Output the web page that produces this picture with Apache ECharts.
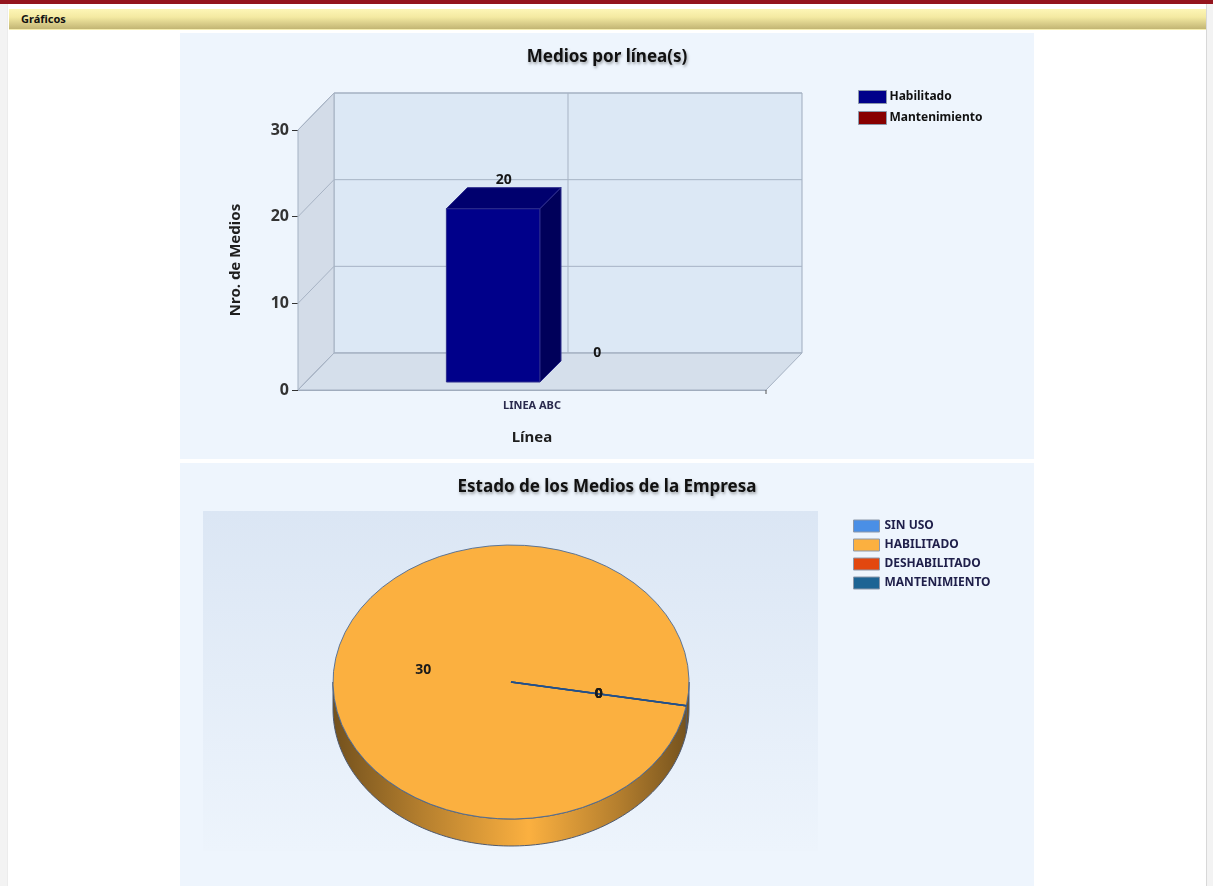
<!DOCTYPE html>
<html>
<head>
<meta charset="utf-8">
<title>Gráficos</title>
<script src="https://cdn.jsdelivr.net/npm/echarts@6.0.0/dist/echarts.min.js"></script>
<style>
  body { margin: 0; background: #f3f3f3; font-family: "Noto Sans", sans-serif; }
  #topbar { position: absolute; left: 0; top: 0; width: 1213px; height: 4px; background: #94141d; }
  #page { position: absolute; left: 7px; top: 4px; width: 1198px; height: 882px; background: #fff;
          border-left: 1px solid #ececec; border-right: 1px solid #d8d8d8; }
  #hdr { position: absolute; left: 9px; top: 9px; width: 1197px; height: 21px; box-sizing: border-box;
         padding-left: 12px; font-weight: bold; font-size: 11px; line-height: 19px; color: #111;
         background: linear-gradient(#fdf6b6, #f4eaa2 40%, #c2b574); border-bottom: 1px solid #f6eeb0; }
  .panel { position: absolute; left: 180px; width: 854px; }
  #bars { top: 33px; height: 426px; }
  #pie { top: 463px; height: 423px; }
</style>
</head>
<body>
<div id="topbar"></div>
<div id="page"></div>
<div id="hdr">Gráficos</div>
<div id="bars" class="panel"></div>
<div id="pie" class="panel"></div>
<script>
// datos: medios por línea
var lineas = ['LINEA ABC'];
var habilitado = [20];
var mantenimiento = [0];
var ticksY = [0, 10, 20, 30];

// datos: estado de los medios
var estados = ['SIN USO', 'HABILITADO', 'DESHABILITADO', 'MANTENIMIENTO'];
var cantidades = [0, 30, 0, 0];

var FONT = '"Noto Sans", sans-serif';
var DX = 36, DY = -37;   // profundidad de las paredes
var INSET = 8, BD = 21;  // posición y profundidad de la barra

var barras = [
  { name: 'Habilitado', data: habilitado, color: '#00008a', top: '#00006e', side: '#00005a' },
  { name: 'Mantenimiento', data: mantenimiento, color: '#880000', top: '#6e0000', side: '#5a0000' }
];

function linea(x1, y1, x2, y2, color) {
  return { type: 'line', shape: { x1: x1, y1: y1, x2: x2, y2: y2 }, style: { stroke: color || '#a7b3c4', lineWidth: 1 } };
}

function renderParedes(params, api) {
  var cs = params.coordSys;
  var L = cs.x, R = cs.x + cs.width, T = cs.y, B = cs.y + cs.height;
  var kids = [
    { type: 'rect', shape: { x: L + DX, y: T + DY, width: cs.width, height: cs.height },
      style: { fill: '#dce8f5', stroke: '#9eabbd', lineWidth: 1 } },
    { type: 'polygon', shape: { points: [[L, B], [L, T], [L + DX, T + DY], [L + DX, B + DY]] },
      style: { fill: '#d3dce8', stroke: '#a5b1c2', lineWidth: 1 } },
    { type: 'polygon', shape: { points: [[L, B], [R, B], [R + DX, B + DY], [L + DX, B + DY]] },
      style: { fill: '#d5dfeb', stroke: '#a5b1c2', lineWidth: 1 } }
  ];
  ticksY.forEach(function (v) {
    var y = api.coord([0, v])[1];
    kids.push(linea(L, y, L + DX, y + DY), linea(L + DX, y + DY, R + DX, y + DY));
  });
  lineas.forEach(function (c, i) {
    var x = api.coord([i, 0])[0] + DX;
    kids.push(linea(x, T + DY, x, B + DY));
  });
  kids.push(linea(R, B, R, B + 4, '#555'));
  return { type: 'group', children: kids };
}

function renderBarra(k) {
  var b = barras[k];
  return function (params, api) {
    var cat = api.value(0), val = api.value(1);
    var bw = api.size([1, 0])[0] * 0.2;
    var c = api.coord([cat, 0]);
    var t = api.coord([cat, val]);
    var x0 = c[0] - bw * barras.length / 2 + k * bw + INSET;
    var yb = c[1] - INSET, yt = t[1] - INSET;
    var kids = [];
    if (yb - yt > 0.5) {
      kids.push(
        { type: 'rect', shape: { x: x0, y: yt, width: bw, height: yb - yt },
          style: { fill: b.color, stroke: '#2c2c8c', lineWidth: 1 } },
        { type: 'polygon', shape: { points: [[x0, yt], [x0 + BD, yt - BD], [x0 + bw + BD, yt - BD], [x0 + bw, yt]] },
          style: { fill: b.top, stroke: '#2c2c8c', lineWidth: 1 } },
        { type: 'polygon', shape: { points: [[x0 + bw, yt], [x0 + bw + BD, yt - BD], [x0 + bw + BD, yb - BD], [x0 + bw, yb]] },
          style: { fill: b.side, stroke: '#2c2c8c', lineWidth: 1 } }
      );
    }
    kids.push({ type: 'text', x: x0 + bw / 2 + BD / 2, y: yt - BD - 8,
      style: { text: String(val), font: 'bold 14px ' + FONT, fill: '#161616',
               textAlign: 'center', textVerticalAlign: 'middle' } });
    return { type: 'group', children: kids };
  };
}

var tituloEstilo = {
  fontFamily: FONT, fontWeight: 'bold', fontSize: 17, color: '#111',
  textShadowColor: 'rgba(0,0,0,0.35)', textShadowBlur: 3, textShadowOffsetX: 1, textShadowOffsetY: 2
};

var chart1 = echarts.init(document.getElementById('bars'));
var series1 = [{
  type: 'custom', name: 'paredes', coordinateSystem: 'cartesian2d', silent: true, clip: false, z: 2,
  data: [[0, 0]], encode: { x: 0, y: 1 }, renderItem: renderParedes
}];
barras.forEach(function (b, k) {
  series1.push({
    type: 'custom', name: b.name, coordinateSystem: 'cartesian2d', clip: false, z: 3,
    itemStyle: { color: b.color },
    data: b.data.map(function (v, i) { return [i, v]; }),
    encode: { x: 0, y: 1 }, renderItem: renderBarra(k)
  });
});
chart1.setOption({
  backgroundColor: '#eef5fd',
  animation: false,
  title: { text: 'Medios por línea(s)', left: 'center', top: 11, textStyle: tituloEstilo },
  legend: {
    data: barras.map(function (b) { return b.name; }),
    orient: 'vertical', left: 673, top: 52, icon: 'rect', itemWidth: 28, itemHeight: 13, itemGap: 7,
    itemStyle: { borderColor: '#8c98aa', borderWidth: 1 },
    textStyle: { fontFamily: FONT, fontWeight: 'bold', fontSize: 12, color: '#111', padding: [0, 0, 0, -2] }
  },
  grid: { left: 118, top: 97, width: 468, height: 260 },
  xAxis: {
    type: 'category', data: lineas,
    name: 'Línea', nameLocation: 'middle', nameGap: 40,
    nameTextStyle: { fontFamily: FONT, fontWeight: 'bold', fontSize: 15, color: '#1e1e1e' },
    axisLine: { lineStyle: { color: '#9aa6b8' } },
    axisTick: { alignWithLabel: true, length: 5, lineStyle: { color: '#555' } },
    axisLabel: { fontFamily: FONT, fontWeight: 'bold', fontSize: 11, color: '#2a2a4e', margin: 10 },
    splitLine: { show: false }
  },
  yAxis: {
    type: 'value', min: 0, max: 30, interval: 10,
    name: 'Nro. de Medios', nameLocation: 'middle', nameGap: 55, nameRotate: 90,
    nameTextStyle: { fontFamily: FONT, fontWeight: 'bold', fontSize: 15, color: '#1e1e1e' },
    axisLine: { show: true, lineStyle: { color: '#8e99aa' } },
    axisTick: { show: true, length: 6, lineStyle: { color: '#333' } },
    axisLabel: { fontFamily: FONT, fontWeight: 'bold', fontSize: 16, color: '#333', margin: 9 },
    splitLine: { show: false }
  },
  series: series1
});

// gráfico de torta
var coloresPie = ['#4a8fe6', '#fbb040', '#e2470f', '#1d6494'];
var PX = 331, PY = 219, RX = 178, RY = 137, PROF = 27;
var INICIO = 10 * Math.PI / 180;

function sombra(hex, f) {
  var n = parseInt(hex.slice(1), 16);
  var r = Math.round((n >> 16 & 255) * f), g = Math.round((n >> 8 & 255) * f), b = Math.round((n & 255) * f);
  return 'rgb(' + r + ',' + g + ',' + b + ')';
}

function lateral(s, e, color) {
  var pts = [], n = Math.max(8, Math.ceil((e - s) / 0.03)), i, t;
  for (i = 0; i <= n; i++) { t = s + (e - s) * i / n; pts.push([PX + RX * Math.cos(t), PY + RY * Math.sin(t)]); }
  for (i = n; i >= 0; i--) { t = s + (e - s) * i / n; pts.push([PX + RX * Math.cos(t), PY + RY * Math.sin(t) + PROF]); }
  return {
    type: 'polygon', shape: { points: pts },
    style: {
      fill: { type: 'linear', x: PX - RX, y: 0, x2: PX + RX, y2: 0, global: true, colorStops: [
        { offset: 0, color: sombra(color, 0.46) }, { offset: 0.25, color: sombra(color, 0.72) },
        { offset: 0.55, color: color }, { offset: 0.8, color: sombra(color, 0.72) },
        { offset: 1, color: sombra(color, 0.46) }] },
      stroke: '#4e5a70', lineWidth: 1
    }
  };
}

function renderPorcion(k) {
  return function (params, api) {
    var total = cantidades.reduce(function (a, b) { return a + b; }, 0);
    var previo = 0;
    for (var i = 0; i < k; i++) previo += cantidades[i];
    var v = api.value(0);
    var a0 = INICIO + previo / total * Math.PI * 2;
    var a1 = a0 + v / total * Math.PI * 2;
    var color = coloresPie[k];
    var kids = [];
    [[0, Math.PI], [Math.PI * 2, Math.PI * 3]].forEach(function (r) {
      var s = Math.max(a0, r[0]), e = Math.min(a1, r[1]);
      if (e - s > 1e-4) kids.push(lateral(s, e, color));
    });
    var cara = v > 0
      ? { type: 'sector', shape: { cx: 0, cy: 0, r: RX, startAngle: a0, endAngle: a1, clockwise: true },
          style: { fill: color, stroke: '#4a6996', lineWidth: 1, strokeNoScale: true } }
      : { type: 'line', z2: 10, shape: { x1: 0, y1: 0, x2: RX * Math.cos(a0), y2: RX * Math.sin(a0) },
          style: { stroke: '#23508a', lineWidth: 2, strokeNoScale: true } };
    kids.push({ type: 'group', x: PX, y: PY, scaleY: RY / RX, children: [cara] });
    var mid = (a0 + a1) / 2;
    kids.push({ type: 'text', z2: 11, x: PX + RX / 2 * Math.cos(mid), y: PY + RY / 2 * Math.sin(mid),
      style: { text: String(v), font: 'bold 14px ' + FONT, fill: '#1a1a1a',
               textAlign: 'center', textVerticalAlign: 'middle' } });
    return { type: 'group', children: kids };
  };
}

var chart2 = echarts.init(document.getElementById('pie'));
chart2.setOption({
  backgroundColor: '#eef5fd',
  animation: false,
  title: { text: 'Estado de los Medios de la Empresa', left: 'center', top: 11, textStyle: tituloEstilo },
  legend: {
    data: estados, orient: 'vertical', left: 668, top: 51, icon: 'rect',
    itemWidth: 26, itemHeight: 12, itemGap: 5,
    itemStyle: { borderColor: '#8c98aa', borderWidth: 1 },
    textStyle: { fontFamily: FONT, fontWeight: 'bold', fontSize: 12, lineHeight: 14, color: '#1f1f4a' }
  },
  graphic: [{
    type: 'rect', left: 23, top: 48, z: -10, silent: true,
    shape: { width: 615, height: 340 },
    style: { fill: { type: 'linear', x: 0, y: 0, x2: 0, y2: 1, colorStops: [
      { offset: 0, color: '#dbe6f4' }, { offset: 1, color: '#edf4fc' }] } }
  }],
  series: estados.map(function (nombre, k) {
    return {
      type: 'custom', name: nombre, coordinateSystem: 'none', z: 2,
      itemStyle: { color: coloresPie[k] },
      data: [[cantidades[k]]], renderItem: renderPorcion(k)
    };
  })
});
</script>
</body>
</html>
